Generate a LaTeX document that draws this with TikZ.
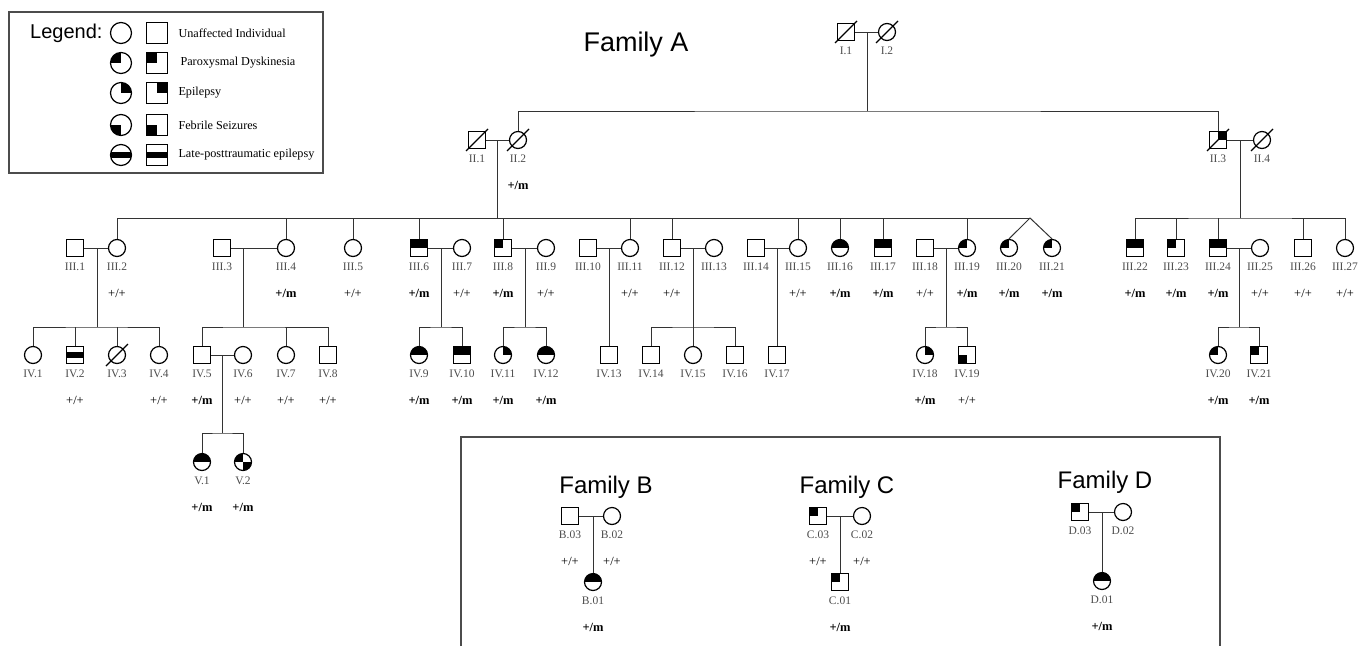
\documentclass[tikz,border=0pt]{standalone}
\usepackage{fontspec}
\setmainfont{Liberation Serif}
\newfontfamily\titlefont{Liberation Sans}
\usetikzlibrary{calc}

\tikzset{
  sym/.style={draw, line width=1.2pt, minimum size=17pt, inner sep=0pt},
  male/.style={sym, rectangle},
  female/.style={sym, circle},
  big/.style={minimum size=21pt},
  affq/.style={path picture={\foreach \q in {#1}
      \fill (path picture bounding box.center) rectangle (path picture bounding box.\q);}},
  pd/.style={affq=north west},
  ep/.style={affq=north east},
  fs/.style={affq=south west},
  uphalf/.style={affq={north west,north east}},
  lpte/.style={path picture={\fill ($(path picture bounding box.west)+(0,-3pt)$)
      rectangle ($(path picture bounding box.east)+(0,3pt)$);}},
  lab/.style={font=\fontsize{11.5}{11.5}\selectfont, text=black!70},
  geno/.style={font=\fontsize{12.5}{12.5}\selectfont},
  legtext/.style={font=\fontsize{12.2}{12.2}\selectfont, anchor=west},
  title/.style={font=\titlefont\fontsize{24}{24}\selectfont},
  link/.style={line width=1pt, black!80},
  frame/.style={line width=1.2pt, black!70},
}

\newcommand{\het}{\textbf{+/m}}
\newcommand{\indiv}[6]{%
  \node[#2] (#1) at (#3,#4) {};
  \node[lab] (#1l) at (#3,#4+19) {#5};
  \if\relax\detokenize{#6}\relax\else\node[geno] (#1g) at (#3,#4+45) {#6};\fi}
\newcommand{\deceased}[1]{%
  \draw[line width=1.1pt] ($(#1.center)+(-11pt,-11pt)$) -- ($(#1.center)+(11pt,11pt)$);}

\begin{document}
\begin{tikzpicture}[x=1pt, y=-1pt]
  \useasboundingbox (0,0) rectangle (1368,646);

  % legend
  \draw[frame] (9,12) rectangle (323,173);
  \node[font=\titlefont\fontsize{20}{20}\selectfont, anchor=east] (leg) at (106,33) {Legend:};
  \node[female, big] (lg1c) at (121,33) {};
  \node[male, big]   (lg1s) at (157,33) {};
  \node[legtext] (lg1t) at (175,33) {Unaffected Individual};
  \node[female, big, pd] (lg2c) at (121,63) {};
  \node[male, big, pd]   (lg2s) at (157,63) {};
  \node[legtext] (lg2t) at (177,63) {Paroxysmal Dyskinesia};
  \node[female, big, ep] (lg3c) at (121,93) {};
  \node[male, big, ep]   (lg3s) at (157,93) {};
  \node[legtext] (lg3t) at (175,93) {Epilepsy};
  \node[female, big, fs] (lg4c) at (121,125) {};
  \node[male, big, fs]   (lg4s) at (157,125) {};
  \node[legtext] (lg4t) at (175,125) {Febrile Seizures};
  \node[female, big, lpte] (lg5c) at (121,155) {};
  \node[male, big, lpte]   (lg5s) at (157,155) {};
  \node[legtext] (lg5t) at (175,155) {Late-posttraumatic epilepsy};

  \node[title, font=\titlefont\fontsize{27}{27}\selectfont] (famA) at (636,45) {Family A};

  % generation I
  \indiv{I1}{male}{846}{32}{I.1}{}
  \indiv{I2}{female}{887}{32}{I.2}{}
  \deceased{I1} \deceased{I2}

  % generation II
  \indiv{II1}{male}{477}{140}{II.1}{}
  \indiv{II2}{female}{518}{140}{II.2}{\het}
  \indiv{II3}{male,ep}{1218}{140}{II.3}{}
  \indiv{II4}{female}{1262}{140}{II.4}{}
  \deceased{II1} \deceased{II2} \deceased{II3} \deceased{II4}

  % generation III
  \indiv{III1}{male}{75}{248}{III.1}{}
  \indiv{III2}{female}{117}{248}{III.2}{+/+}
  \indiv{III3}{male}{222}{248}{III.3}{}
  \indiv{III4}{female}{286}{248}{III.4}{\het}
  \indiv{III5}{female}{353}{248}{III.5}{+/+}
  \indiv{III6}{male,uphalf}{419}{248}{III.6}{\het}
  \indiv{III7}{female}{462}{248}{III.7}{+/+}
  \indiv{III8}{male,pd}{503}{248}{III.8}{\het}
  \indiv{III9}{female}{546}{248}{III.9}{+/+}
  \indiv{III10}{male}{588}{248}{III.10}{}
  \indiv{III11}{female}{630}{248}{III.11}{+/+}
  \indiv{III12}{male}{672}{248}{III.12}{+/+}
  \indiv{III13}{female}{714}{248}{III.13}{}
  \indiv{III14}{male}{756}{248}{III.14}{}
  \indiv{III15}{female}{798}{248}{III.15}{+/+}
  \indiv{III16}{female,uphalf}{840}{248}{III.16}{\het}
  \indiv{III17}{male,uphalf}{883}{248}{III.17}{\het}
  \indiv{III18}{male}{925}{248}{III.18}{+/+}
  \indiv{III19}{female,pd}{967}{248}{III.19}{\het}
  \indiv{III20}{female,pd}{1009}{248}{III.20}{\het}
  \indiv{III21}{female,pd}{1052}{248}{III.21}{\het}
  \indiv{III22}{male,uphalf}{1135}{248}{III.22}{\het}
  \indiv{III23}{male,pd}{1176}{248}{III.23}{\het}
  \indiv{III24}{male,uphalf}{1218}{248}{III.24}{\het}
  \indiv{III25}{female}{1260}{248}{III.25}{+/+}
  \indiv{III26}{male}{1303}{248}{III.26}{+/+}
  \indiv{III27}{female}{1345}{248}{III.27}{+/+}

  % generation IV
  \indiv{IV1}{female}{33}{355}{IV.1}{}
  \indiv{IV2}{male,lpte}{75}{355}{IV.2}{+/+}
  \indiv{IV3}{female}{117}{355}{IV.3}{}
  \indiv{IV4}{female}{159}{355}{IV.4}{+/+}
  \indiv{IV5}{male}{202}{355}{IV.5}{\het}
  \indiv{IV6}{female}{243}{355}{IV.6}{+/+}
  \indiv{IV7}{female}{286}{355}{IV.7}{+/+}
  \indiv{IV8}{male}{328}{355}{IV.8}{+/+}
  \indiv{IV9}{female,uphalf}{419}{355}{IV.9}{\het}
  \indiv{IV10}{male,uphalf}{462}{355}{IV.10}{\het}
  \indiv{IV11}{female,ep}{503}{355}{IV.11}{\het}
  \indiv{IV12}{female,uphalf}{546}{355}{IV.12}{\het}
  \indiv{IV13}{male}{609}{355}{IV.13}{}
  \indiv{IV14}{male}{651}{355}{IV.14}{}
  \indiv{IV15}{female}{693}{355}{IV.15}{}
  \indiv{IV16}{male}{735}{355}{IV.16}{}
  \indiv{IV17}{male}{777}{355}{IV.17}{}
  \indiv{IV18}{female,ep}{925}{355}{IV.18}{\het}
  \indiv{IV19}{male,fs}{967}{355}{IV.19}{+/+}
  \indiv{IV20}{female,pd}{1218}{355}{IV.20}{\het}
  \indiv{IV21}{male,pd}{1259}{355}{IV.21}{\het}
  \deceased{IV3}

  % generation V
  \indiv{V1}{female,uphalf}{202}{462}{V.1}{\het}
  \indiv{V2}{female,affq={north west,south east}}{243}{462}{V.2}{\het}

  % lines of descent
  \coordinate (f2) at (867,111);
  \draw[link] (I1) -- (I2) (f2 |- I1) -- (f2);
  \draw[link] (II2.north) |- (f2) -| (II3.north);

  \coordinate (f3a) at (497,218);
  \coordinate (tw) at (1030,218);
  \draw[link] (II1) -- (II2) (f3a |- II1) -- (f3a);
  \draw[link] (III2.north) |- (tw);
  \draw[link] (III20.north) -- (tw) -- (III21.north);
  \foreach \k in {III4,III5,III6,III8,III11,III12,III15,III16,III17,III19}
    \draw[link] (\k.north) -- (\k |- f3a);

  \coordinate (f3b) at (1240,218);
  \draw[link] (II3) -- (II4) (f3b |- II3) -- (f3b);
  \draw[link] (III22.north) |- (f3b) -| (III27.north);
  \foreach \k in {III23,III24,III26}
    \draw[link] (\k.north) -- (\k |- f3b);

  \coordinate (f4a) at (97,327);
  \draw[link] (III1) -- (III2) (f4a |- III1) -- (f4a);
  \draw[link] (IV1.north) |- (f4a) -| (IV4.north);
  \draw[link] (IV2.north) -- (IV2 |- f4a) (IV3.north) -- (IV3 |- f4a);

  \coordinate (f4b) at (243,327);
  \draw[link] (III3) -- (III4) (f4b |- III3) -- (f4b);
  \draw[link] (IV5.north) |- (f4b) -| (IV8.north);
  \draw[link] (IV7.north) -- (IV7 |- f4b);

  \coordinate (f4c) at (441,327);
  \draw[link] (III6) -- (III7) (f4c |- III6) -- (f4c);
  \draw[link] (IV9.north) |- (f4c) -| (IV10.north);

  \coordinate (f4d) at (525,327);
  \draw[link] (III8) -- (III9) (f4d |- III8) -- (f4d);
  \draw[link] (IV11.north) |- (f4d) -| (IV12.north);

  \draw[link] (III10) -- (III11) (IV13 |- III10) -- (IV13.north);

  \coordinate (f4f) at (693,327);
  \draw[link] (III12) -- (III13) (IV15 |- III12) -- (IV15.north);
  \draw[link] (IV14.north) |- (f4f) -| (IV16.north);

  \draw[link] (III14) -- (III15) (IV17 |- III14) -- (IV17.north);

  \coordinate (f4g) at (946,327);
  \draw[link] (III18) -- (III19) (f4g |- III18) -- (f4g);
  \draw[link] (IV18.north) |- (f4g) -| (IV19.north);

  \coordinate (f4h) at (1239,327);
  \draw[link] (III24) -- (III25) (f4h |- III24) -- (f4h);
  \draw[link] (IV20.north) |- (f4h) -| (IV21.north);

  \coordinate (f5) at (222,433);
  \draw[link] (IV5) -- (IV6) (f5 |- IV5) -- (f5);
  \draw[link] (V1.north) |- (f5) -| (V2.north);

  % families B, C and D
  \draw[frame] (461,646) -- (461,437) -- (1220,437) -- (1220,646);
  \node[title] (famB) at (606,487) {Family B};
  \node[title] (famC) at (847,487) {Family C};
  \node[title] (famD) at (1105,482) {Family D};

  \indiv{B03}{male}{570}{516}{B.03}{+/+}
  \indiv{B02}{female}{612}{516}{B.02}{+/+}
  \indiv{B01}{female,uphalf}{593}{582}{B.01}{\het}
  \draw[link] (B03) -- (B02) (B01 |- B03) -- (B01.north);

  \indiv{C03}{male,pd}{818}{516}{C.03}{+/+}
  \indiv{C02}{female}{862}{516}{C.02}{+/+}
  \indiv{C01}{male,pd}{840}{582}{C.01}{\het}
  \draw[link] (C03) -- (C02) (C01 |- C03) -- (C01.north);

  \indiv{D03}{male,pd}{1080}{512}{D.03}{}
  \indiv{D02}{female}{1123}{512}{D.02}{}
  \indiv{D01}{female,uphalf}{1102}{581}{D.01}{\het}
  \draw[link] (D03) -- (D02) (D01 |- D03) -- (D01.north);
\end{tikzpicture}
\end{document}
